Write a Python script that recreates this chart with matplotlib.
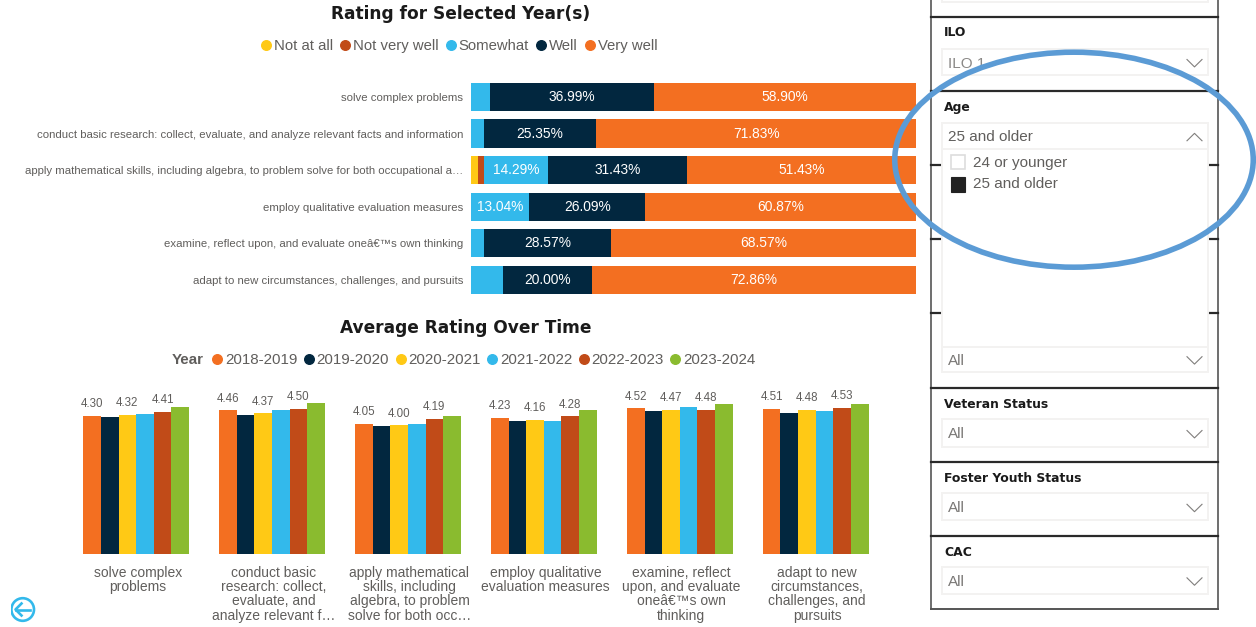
import matplotlib
matplotlib.use("Agg")
import matplotlib.pyplot as plt
from matplotlib.lines import Line2D
from matplotlib.patches import Rectangle, Ellipse, Circle

plt.rcParams['font.family'] = ['Liberation Sans', 'DejaVu Sans']

W, H = 1256, 627

ORANGE = "#F36F21"
NAVY = "#02273F"
YELLOW = "#FFC915"
SKY = "#33B9EB"
RUST = "#C14B18"
GREEN = "#8ABB2F"
GREY = "#605E5C"

# top chart
skills_long = [
    "solve complex problems",
    "conduct basic research: collect, evaluate, and analyze relevant facts and information",
    "apply mathematical skills, including algebra, to problem solve for both occupational a…",
    "employ qualitative evaluation measures",
    "examine, reflect upon, and evaluate oneâ€™s own thinking",
    "adapt to new circumstances, challenges, and pursuits",
]
rating_names = ["Not at all", "Not very well", "Somewhat", "Well", "Very well"]
not_at_all = [0, 0, 1.43, 0, 0, 0]
not_very_well = [0, 0, 1.43, 0, 0, 0]
somewhat = [4.11, 2.82, 14.29, 13.04, 2.86, 7.14]
well = [36.99, 25.35, 31.43, 26.09, 28.57, 20.00]
very_well = [58.90, 71.83, 51.43, 60.87, 68.57, 72.86]

# bottom chart
skills_wrapped = [
    "solve complex\nproblems",
    "conduct basic\nresearch: collect,\nevaluate, and\nanalyze relevant f…",
    "apply mathematical\nskills, including\nalgebra, to problem\nsolve for both occ…",
    "employ qualitative\nevaluation measures",
    "examine, reflect\nupon, and evaluate\noneâ€™s own\nthinking",
    "adapt to new\ncircumstances,\nchallenges, and\npursuits",
]
years = ["2018-2019", "2019-2020", "2020-2021", "2021-2022", "2022-2023", "2023-2024"]
avg_2018 = [4.30, 4.46, 4.05, 4.23, 4.52, 4.51]
avg_2019 = [4.25, 4.32, 3.99, 4.12, 4.43, 4.37]
avg_2020 = [4.32, 4.37, 4.00, 4.16, 4.47, 4.48]
avg_2021 = [4.34, 4.47, 4.05, 4.12, 4.56, 4.45]
avg_2022 = [4.41, 4.50, 4.19, 4.28, 4.48, 4.53]
avg_2023 = [4.55, 4.68, 4.30, 4.47, 4.65, 4.65]


def px_axes(fig, left, top, right, bottom, **kw):
    # axes placed by pixel position, y counted from the top of the image
    return fig.add_axes([left / W, 1 - bottom / H, (right - left) / W, (bottom - top) / H], **kw)


def dot(color, label):
    return Line2D([], [], linestyle="none", marker="o", markersize=6.9, color=color, label=label)


fig = plt.figure(figsize=(W / 100, H / 100), dpi=100, facecolor="white")

# ---- top chart: 100% stacked bars
ax1 = px_axes(fig, 471.3, 78.7, 915.7, 298.2)
series = [not_at_all, not_very_well, somewhat, well, very_well]
colors = [YELLOW, RUST, SKY, NAVY, ORANGE]
left = [0.0] * len(skills_long)
for vals, col in zip(series, colors):
    ax1.barh(range(len(vals)), vals, left=left, height=0.77, color=col, linewidth=0)
    for i, v in enumerate(vals):
        if v >= 10:  # small segments have no label in the original
            ax1.text(left[i] + v / 2, i, "{:.2f}%".format(v), color="white", fontsize=9.9,
                     ha="center", va="center")
    left = [a + b for a, b in zip(left, vals)]
ax1.set_xlim(0, 100)
ax1.set_ylim(5.5, -0.5)
ax1.set_yticks(range(len(skills_long)))
ax1.set_yticklabels(skills_long, fontsize=8.2, color=GREY)
ax1.tick_params(axis="y", length=0, pad=6)
ax1.xaxis.set_visible(False)
for s in ax1.spines.values():
    s.set_visible(False)

# ---- bottom chart: clustered columns
ax2 = px_axes(fig, 69.7, 385, 885.1, 554.3)
group_series = [avg_2018, avg_2019, avg_2020, avg_2021, avg_2022, avg_2023]
group_colors = [ORANGE, NAVY, YELLOW, SKY, RUST, GREEN]
bar_w = 105.7 / 135.9 / 6
shift = -0.011  # bars sit a little left of the category labels
for k, (vals, col) in enumerate(zip(group_series, group_colors)):
    xs = [i + (k - 2.5) * bar_w + shift for i in range(len(vals))]
    ax2.bar(xs, vals, width=bar_w, color=col, linewidth=0)
    if k in (0, 2, 4):  # every other label, the rest were dropped by the report
        for x, v in zip(xs, vals):
            ax2.annotate("{:.2f}".format(v), (x, v), xytext=(0, 8.4), textcoords="offset points",
                         ha="center", va="center", fontsize=8.3, color=GREY)
ax2.set_xlim(-0.5, 5.5)
ax2.set_ylim(0, 169.3 / 32.27)
ax2.set_xticks(range(len(skills_wrapped)))
ax2.set_xticklabels(skills_wrapped, fontsize=10, color=GREY, linespacing=1.03)
ax2.tick_params(axis="x", length=0, pad=8.2)
ax2.yaxis.set_visible(False)
for s in ax2.spines.values():
    s.set_visible(False)

# ---- overlay in image pixels: titles, legends, filter panel
ov = fig.add_axes([0, 0, 1, 1], zorder=5)
ov.set_xlim(0, W)
ov.set_ylim(H, 0)
ov.axis("off")
ov.patch.set_alpha(0)

ov.text(461, 14, "Rating for Selected Year(s)", fontsize=12.25, fontweight="bold",
        family="DejaVu Sans", color="#1A1A1A", ha="center", va="center")
ov.text(466, 328, "Average Rating Over Time", fontsize=12.25, fontweight="bold",
        family="DejaVu Sans", color="#1A1A1A", ha="center", va="center")

leg_style = dict(loc="center", frameon=False, labelcolor=GREY, handletextpad=0.0,
                 borderpad=0, handlelength=1.0, bbox_transform=ov.transData)
leg1 = ov.legend(handles=[dot(c, n) for c, n in zip(colors, rating_names)], fontsize=10.7,
                 columnspacing=0.35, ncol=5, bbox_to_anchor=(458, 46), **leg_style)
ov.add_artist(leg1)
leg2 = ov.legend(handles=[dot(c, n) for c, n in zip(group_colors, years)], fontsize=10.9,
                 columnspacing=0.27, ncol=6, bbox_to_anchor=(482.5, 360), **leg_style)
ov.text(172, 360, "Year", fontsize=10.9, fontweight="bold", color=GREY, ha="left", va="center")

# filter panel frame
FRAME = "#555555"
ov.plot([930.7, 930.7], [0, 609], color=FRAME, lw=1.2)
ov.plot([1218.2, 1218.2], [0, 609], color=FRAME, lw=1.2)
ov.plot([930.7, 1218.2], [609, 609], color=FRAME, lw=1.4)
for y in [17, 91, 165, 239, 313, 388, 462, 536]:
    ov.plot([930.7, 1218.2], [y, y], color="#2A2A2A", lw=1.6)

BOX = "#F3F2F1"


def box(top, bottom, face="white"):
    ov.add_patch(Rectangle((941.7, top), 266.6, bottom - top, facecolor=face, edgecolor=BOX, lw=1.4, zorder=3))


def chevron(yc, up=False):
    d = -3.7 if up else 3.7
    ov.plot([1187, 1194.5, 1202], [yc - d, yc + d, yc - d], color="#807E7C", lw=0.8, zorder=4)


def slicer(title, title_y, top, bottom, value, val_color=GREY, up=False):
    if title:
        ov.text(944, title_y, title, fontsize=8.9, fontweight="bold", family="DejaVu Sans",
                color="#1A1A1A", va="center", zorder=4)
    box(top, bottom)
    ov.text(947.5, (top + bottom) / 2 + 1.5, value, fontsize=11, color=val_color, va="center", zorder=4)
    chevron((top + bottom) / 2 + 1.2, up)


box(-10, 1.5)
slicer("ILO", 33, 48.7, 75.3, "ILO 1", "#8A8886")
slicer("Age", 107.5, 122.7, 149, "25 and older", up=True)
box(149, 346.7)  # opened drop down covers the two slicers below Age
ov.add_patch(Rectangle((950.9, 154.6), 14.3, 14.8, facecolor="white", edgecolor="#DDDDDD", lw=1.2, zorder=4))
ov.add_patch(Rectangle((950.9, 177.2), 14.3, 14.8, facecolor="#222222", edgecolor="#222222", lw=0.8, zorder=4))
ov.text(973, 162.5, "24 or younger", fontsize=11, color=GREY, va="center", zorder=4)
ov.text(973, 184.5, "25 and older", fontsize=11, color=GREY, va="center", zorder=4)
slicer(None, 0, 346.7, 371.7, "All", "#7A7876")
slicer("Veteran Status", 404.5, 419.3, 446.7, "All", "#7A7876")
slicer("Foster Youth Status", 478.5, 493.3, 520.3, "All", "#7A7876")
slicer("CAC", 552, 567, 593.7, "All", "#7A7876")

# hand drawn highlight
ov.add_patch(Ellipse((1074, 159.7), 358.5, 215, facecolor="none", edgecolor="#5B9BD5", lw=4.0, zorder=6))

# back button
ov.add_patch(Circle((22.7, 609.5), 11.3, facecolor="none", edgecolor=SKY, lw=1.9, zorder=4))
ov.plot([16.2, 30], [609.5, 609.5], color=SKY, lw=1.9, zorder=4)
ov.plot([21.5, 15.5, 21.5], [603.5, 609.5, 615.5], color=SKY, lw=1.9, zorder=4)
ov.add_patch(Rectangle((0, 590), 10.5, 37, facecolor="white", edgecolor="none", zorder=5))

fig.savefig("out.png", dpi=100)
